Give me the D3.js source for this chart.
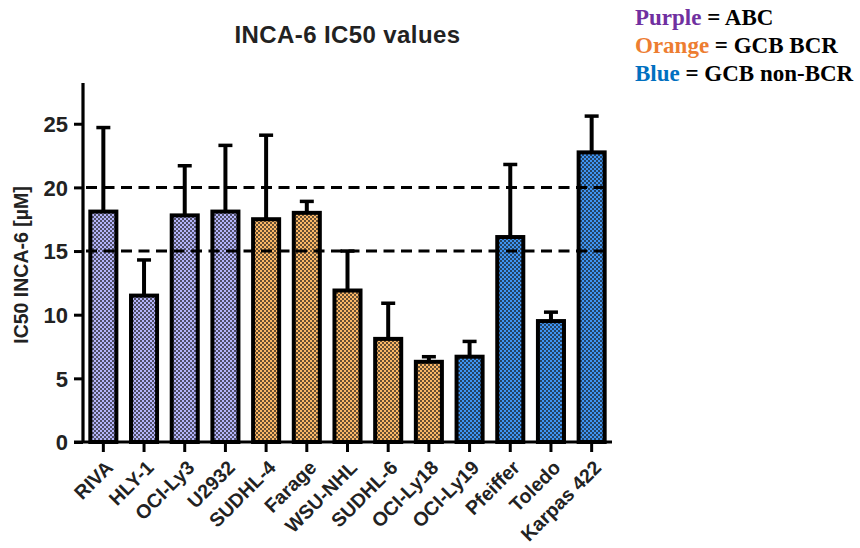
<!DOCTYPE html>
<html>
<head>
<meta charset="utf-8">
<script src="https://cdn.jsdelivr.net/npm/d3@7"></script>
<style>
  html, body { margin: 0; padding: 0; background: #fff; }
  svg { display: block; }
</style>
</head>
<body>
<svg id="chart" width="860" height="548"></svg>
<script>
// ---- data ----
const categories = ["RIVA","HLY-1","OCI-Ly3","U2932","SUDHL-4","Farage","WSU-NHL","SUDHL-6","OCI-Ly18","OCI-Ly19","Pfeiffer","Toledo","Karpas 422"];
const means      = [18.1, 11.5, 17.8, 18.1, 17.5, 18.0, 11.9, 8.1, 6.3, 6.7, 16.1, 9.5, 22.75];
const sdUpper    = [6.6, 2.8, 3.9, 5.2, 6.6, 0.9, 3.1, 2.8, 0.4, 1.2, 5.7, 0.7, 2.85];
const groups     = ["ABC","ABC","ABC","ABC","GCB BCR","GCB BCR","GCB BCR","GCB BCR","GCB BCR","GCB non-BCR","GCB non-BCR","GCB non-BCR","GCB non-BCR"];
const yTicks     = [0, 5, 10, 15, 20, 25];
const refLines   = [15, 20];
const groupNames = ["ABC","GCB BCR","GCB non-BCR"];
const legendWords = ["Purple","Orange","Blue"];
const title = "INCA-6 IC50 values";
const yLabel = "IC50 INCA-6 [µM]";

// ---- styling ----
const fillColors = {"ABC":"#b4b4fa","GCB BCR":"#fbb867","GCB non-BCR":"#3f94f2"};
const legendColors = ["#7030A0","#ED7D31","#0070C0"];
const sans = "'Liberation Sans', Arial, Helvetica, sans-serif";
const serif = "'Liberation Serif', 'Times New Roman', serif";

const svg = d3.select("#chart");
const left = 83, right = 612, bottom = 442;

const x = d3.scaleBand().domain(categories).range([left, right]).paddingInner(0.36).paddingOuter(0.18);
const y = d3.scaleLinear().domain([0, 28.2]).range([bottom, 83]);

// checker patterns
const defs = svg.append("defs");
groupNames.forEach((g, i) => {
  const p = defs.append("pattern").attr("id", "pat" + i)
    .attr("patternUnits", "userSpaceOnUse").attr("width", 4).attr("height", 4);
  p.append("rect").attr("width", 4).attr("height", 4).attr("fill", fillColors[g]);
  p.append("rect").attr("x", 0.2).attr("y", 0.2).attr("width", 1.6).attr("height", 1.6).attr("fill", "#151515");
  p.append("rect").attr("x", 2.2).attr("y", 2.2).attr("width", 1.6).attr("height", 1.6).attr("fill", "#151515");
});

const data = categories.map((c, i) => ({c, m: means[i], sd: sdUpper[i], g: groups[i]}));

// error bars
const eb = svg.append("g");
eb.selectAll("line.v").data(data).join("line")
  .attr("x1", d => x(d.c) + x.bandwidth()/2).attr("x2", d => x(d.c) + x.bandwidth()/2)
  .attr("y1", d => y(d.m)).attr("y2", d => y(d.m + d.sd))
  .attr("stroke", "#000").attr("stroke-width", 4);
eb.selectAll("line.h").data(data).join("line")
  .attr("x1", d => x(d.c) + x.bandwidth()/2 - 7).attr("x2", d => x(d.c) + x.bandwidth()/2 + 7)
  .attr("y1", d => y(d.m + d.sd)).attr("y2", d => y(d.m + d.sd))
  .attr("stroke", "#000").attr("stroke-width", 3.5);

// bars
svg.append("g").selectAll("rect").data(data).join("rect")
  .attr("x", d => x(d.c)).attr("width", x.bandwidth())
  .attr("y", d => y(d.m)).attr("height", d => y(0) - y(d.m))
  .attr("fill", d => "url(#pat" + groupNames.indexOf(d.g) + ")")
  .attr("stroke", "#000").attr("stroke-width", 4);

// reference dashed lines
svg.append("g").selectAll("line").data(refLines).join("line")
  .attr("x1", 86).attr("x2", 604)
  .attr("y1", d => y(d)).attr("y2", d => y(d))
  .attr("stroke", "#000").attr("stroke-width", 3).attr("stroke-dasharray", "11,6.5");

// y axis
const yAxis = svg.append("g").attr("transform", `translate(${left},0)`)
  .call(d3.axisLeft(y).tickValues(yTicks).tickSize(9).tickPadding(6).tickFormat(d3.format("d")));
yAxis.select(".domain").attr("d", `M0,${y(28.2)}V${bottom}`).attr("stroke-width", 3.2);
yAxis.selectAll(".tick line").attr("stroke-width", 3);
yAxis.selectAll(".tick text").attr("font-family", sans).attr("font-weight", "bold")
  .attr("font-size", 22).attr("fill", "#222").attr("dy", "0.36em");

// x axis
const xAxis = svg.append("g").attr("transform", `translate(0,${bottom})`)
  .call(d3.axisBottom(x).tickSize(10).tickSizeOuter(0));
xAxis.select(".domain").attr("d", `M${left - 9},0H${right}`).attr("stroke-width", 3.2);
xAxis.selectAll(".tick line").attr("stroke-width", 3);
xAxis.selectAll(".tick text")
  .attr("font-family", sans).attr("font-weight", "bold").attr("font-size", 19.5).attr("fill", "#222")
  .attr("text-anchor", "end")
  .attr("transform", "translate(6,22) rotate(-45)")
  .attr("x", 0).attr("y", 0).attr("dy", "0.35em");

// title
svg.append("text").attr("x", (left + right) / 2).attr("y", 43)
  .attr("text-anchor", "middle").attr("font-family", sans).attr("font-weight", "bold")
  .attr("font-size", 24).attr("letter-spacing", 0.4).attr("fill", "#222").text(title);

// y label
svg.append("text").attr("transform", `translate(28,265) rotate(-90)`)
  .attr("text-anchor", "middle").attr("font-family", sans).attr("font-weight", "bold")
  .attr("font-size", 19.5).attr("fill", "#222").text(yLabel);

// legend text
const lg = svg.append("g");
groupNames.forEach((g, i) => {
  const t = lg.append("text").attr("x", 635).attr("y", 25 + i * 28)
    .attr("font-family", serif).attr("font-weight", "bold").attr("font-size", 23);
  t.append("tspan").attr("fill", legendColors[i]).text(legendWords[i]);
  t.append("tspan").attr("fill", "#000").text(" = " + g);
});
</script>
</body>
</html>
